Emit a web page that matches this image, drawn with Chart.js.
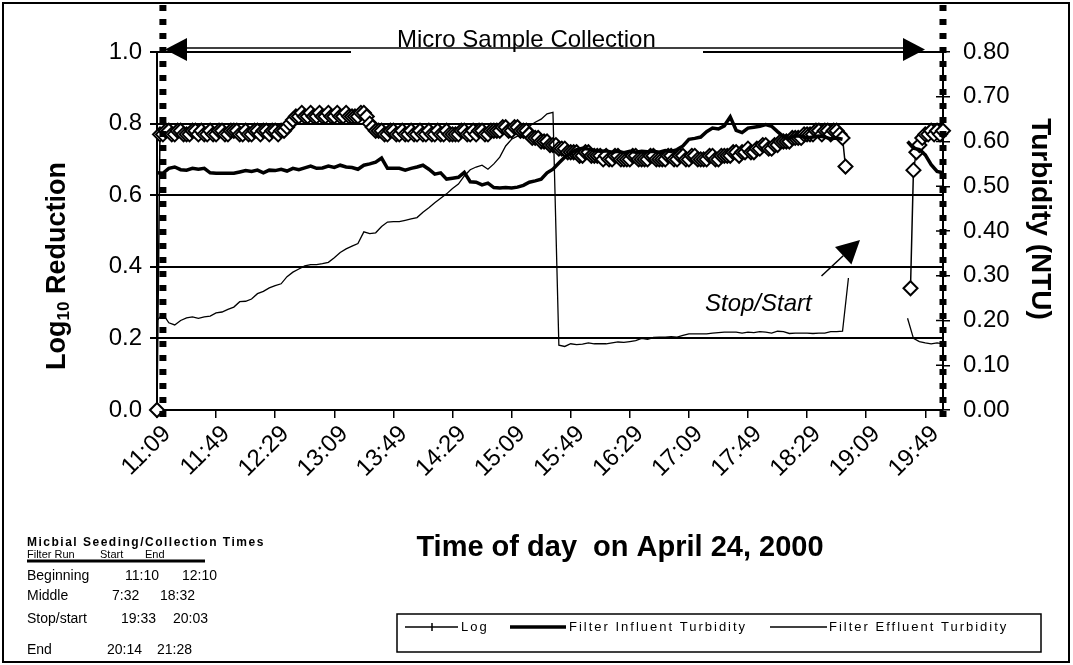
<!DOCTYPE html>
<html><head><meta charset="utf-8">
<script src="https://cdn.jsdelivr.net/npm/chart.js@4.4.1/dist/chart.umd.min.js"></script>
<style>html,body{margin:0;padding:0;background:#fff}canvas{display:block}</style>
</head><body>
<canvas id="c" width="1073" height="665" style="width:1073px;height:665px"></canvas>
<script>
// ---------- DATA ----------
// axis categories / Log sampling times (every 2 min)
const timeLabels = [
"11:09","11:11","11:13","11:15","11:17","11:19","11:21","11:23","11:25","11:27",
"11:29","11:31","11:33","11:35","11:37","11:39","11:41","11:43","11:45","11:47",
"11:49","11:51","11:53","11:55","11:57","11:59","12:01","12:03","12:05","12:07",
"12:09","12:11","12:13","12:15","12:17","12:19","12:21","12:23","12:25","12:27",
"12:29","12:31","12:33","12:35","12:37","12:39","12:41","12:43","12:45","12:47",
"12:49","12:51","12:53","12:55","12:57","12:59","13:01","13:03","13:05","13:07",
"13:09","13:11","13:13","13:15","13:17","13:19","13:21","13:23","13:25","13:27",
"13:29","13:31","13:33","13:35","13:37","13:39","13:41","13:43","13:45","13:47",
"13:49","13:51","13:53","13:55","13:57","13:59","14:01","14:03","14:05","14:07",
"14:09","14:11","14:13","14:15","14:17","14:19","14:21","14:23","14:25","14:27",
"14:29","14:31","14:33","14:35","14:37","14:39","14:41","14:43","14:45","14:47",
"14:49","14:51","14:53","14:55","14:57","14:59","15:01","15:03","15:05","15:07",
"15:09","15:11","15:13","15:15","15:17","15:19","15:21","15:23","15:25","15:27",
"15:29","15:31","15:33","15:35","15:37","15:39","15:41","15:43","15:45","15:47",
"15:49","15:51","15:53","15:55","15:57","15:59","16:01","16:03","16:05","16:07",
"16:09","16:11","16:13","16:15","16:17","16:19","16:21","16:23","16:25","16:27",
"16:29","16:31","16:33","16:35","16:37","16:39","16:41","16:43","16:45","16:47",
"16:49","16:51","16:53","16:55","16:57","16:59","17:01","17:03","17:05","17:07",
"17:09","17:11","17:13","17:15","17:17","17:19","17:21","17:23","17:25","17:27",
"17:29","17:31","17:33","17:35","17:37","17:39","17:41","17:43","17:45","17:47",
"17:49","17:51","17:53","17:55","17:57","17:59","18:01","18:03","18:05","18:07",
"18:09","18:11","18:13","18:15","18:17","18:19","18:21","18:23","18:25","18:27",
"18:29","18:31","18:33","18:35","18:37","18:39","18:41","18:43","18:45","18:47",
"18:49","18:51","18:53","18:55","18:57","18:59","19:01","19:03","19:05","19:07",
"19:09","19:11","19:13","19:15","19:17","19:19","19:21","19:23","19:25","19:27",
"19:29","19:31","19:33","19:35","19:37","19:39","19:41","19:43","19:45","19:47",
"19:49","19:51","19:53","19:55","19:57","19:59","20:01"];

// turbidity sampling times (every 4 min)
const turbidityTimes = [
"11:09","11:13","11:17","11:21","11:25","11:29","11:33","11:37","11:41","11:45",
"11:49","11:53","11:57","12:01","12:05","12:09","12:13","12:17","12:21","12:25",
"12:29","12:33","12:37","12:41","12:45","12:49","12:53","12:57","13:01","13:05",
"13:09","13:13","13:17","13:21","13:25","13:29","13:33","13:37","13:41","13:45",
"13:49","13:53","13:57","14:01","14:05","14:09","14:13","14:17","14:21","14:25",
"14:29","14:33","14:37","14:41","14:45","14:49","14:53","14:57","15:01","15:05",
"15:09","15:13","15:17","15:21","15:25","15:29","15:33","15:37","15:41","15:45",
"15:49","15:53","15:57","16:01","16:05","16:09","16:13","16:17","16:21","16:25",
"16:29","16:33","16:37","16:41","16:45","16:49","16:53","16:57","17:01","17:05",
"17:09","17:13","17:17","17:21","17:25","17:29","17:33","17:37","17:41","17:45",
"17:49","17:53","17:57","18:01","18:05","18:09","18:13","18:17","18:21","18:25",
"18:29","18:33","18:37","18:41","18:45","18:49","18:53","18:57","19:01","19:05",
"19:09","19:13","19:17","19:21","19:25","19:29","19:33","19:37","19:41","19:45",
"19:49","19:53","19:57","20:01"];

const tickLabels = ["11:09","11:49","12:29","13:09","13:49","14:29","15:09","15:49",
"16:29","17:09","17:49","18:29","19:09","19:49"];

const logReduction = [
0,0.77,0.77,0.78,0.78,0.77,0.77,0.78,0.78,0.77,
0.77,0.77,0.78,0.78,0.77,0.78,0.77,0.77,0.78,0.77,
0.77,0.78,0.78,0.77,0.77,0.78,0.78,0.78,0.77,0.77,
0.78,0.77,0.77,0.78,0.78,0.77,0.78,0.78,0.77,0.78,
0.78,0.77,0.78,0.78,0.79,0.80,0.81,0.82,0.82,0.83,
0.82,0.82,0.83,0.82,0.82,0.83,0.82,0.82,0.83,0.82,
0.82,0.83,0.82,0.82,0.83,0.82,0.82,0.82,0.82,0.83,
0.83,0.82,0.80,0.79,0.78,0.78,0.78,0.77,0.77,0.78,
0.78,0.77,0.77,0.78,0.77,0.77,0.78,0.77,0.77,0.78,
0.77,0.77,0.78,0.77,0.77,0.78,0.77,0.77,0.78,0.77,
0.77,0.77,0.77,0.78,0.78,0.77,0.77,0.78,0.77,0.78,
0.78,0.77,0.77,0.78,0.78,0.78,0.78,0.79,0.79,0.78,
0.78,0.79,0.79,0.78,0.78,0.78,0.77,0.76,0.76,0.76,
0.75,0.75,0.75,0.74,0.74,0.74,0.73,0.73,0.73,0.72,
0.72,0.72,0.72,0.71,0.71,0.72,0.72,0.71,0.71,0.71,
0.71,0.70,0.71,0.70,0.70,0.71,0.71,0.70,0.70,0.70,
0.70,0.71,0.71,0.70,0.70,0.70,0.70,0.71,0.71,0.70,
0.70,0.70,0.70,0.71,0.71,0.70,0.70,0.71,0.71,0.70,
0.70,0.71,0.71,0.70,0.70,0.70,0.70,0.71,0.71,0.70,
0.70,0.71,0.71,0.71,0.71,0.72,0.72,0.71,0.72,0.72,
0.73,0.72,0.72,0.73,0.73,0.74,0.74,0.73,0.73,0.74,
0.74,0.75,0.75,0.75,0.75,0.76,0.76,0.76,0.76,0.77,
0.77,0.77,0.77,0.78,0.78,0.77,0.78,0.78,0.77,0.78,
0.78,0.77,0.76,0.68,null,null,null,null,null,null,
null,null,null,null,null,null,null,null,null,null,
null,null,null,null,null,0.34,0.67,0.72,0.74,0.76,
0.77,0.77,0.78,0.77,0.78,0.77,0.78];

const influentTurbidity = [
0.53,0.529,0.54,0.543,0.537,0.536,0.54,0.538,0.54,0.53,
0.529,0.529,0.529,0.529,0.532,0.535,0.533,0.536,0.53,0.536,
0.535,0.538,0.534,0.54,0.537,0.541,0.545,0.54,0.541,0.545,
0.542,0.547,0.543,0.542,0.538,0.547,0.55,0.554,0.563,0.54,
0.54,0.54,0.536,0.54,0.543,0.547,0.538,0.527,0.53,0.516,
0.518,0.52,0.531,0.51,0.509,0.503,0.507,0.497,0.496,0.497,
0.496,0.498,0.502,0.509,0.512,0.516,0.53,0.538,0.552,0.565,
0.574,0.582,0.585,0.583,0.58,0.578,0.579,0.576,0.578,0.575,
0.578,0.576,0.578,0.577,0.578,0.576,0.58,0.578,0.582,0.59,
0.605,0.607,0.61,0.622,0.63,0.628,0.635,0.655,0.625,0.62,
0.63,0.632,0.634,0.638,0.634,0.622,0.611,0.607,0.613,0.612,
0.608,0.61,0.612,0.61,0.606,0.608,0.605,
null,null,null,null,null,null,null,null,null,null,
0.60,0.585,0.582,0.57,0.548,0.533,0.53];

const effluentTurbidity = [
0.20,0.215,0.195,0.19,0.20,0.206,0.208,0.205,0.208,0.21,
0.217,0.219,0.225,0.23,0.242,0.243,0.248,0.26,0.265,0.273,
0.278,0.282,0.298,0.308,0.315,0.322,0.325,0.325,0.327,0.33,
0.34,0.352,0.36,0.366,0.372,0.398,0.394,0.396,0.41,0.42,
0.421,0.421,0.424,0.427,0.43,0.442,0.452,0.463,0.473,0.483,
0.495,0.505,0.523,0.537,0.543,0.547,0.538,0.55,0.565,0.59,
0.605,0.612,0.62,0.634,0.643,0.65,0.662,0.665,0.145,0.142,
0.148,0.146,0.147,0.15,0.148,0.148,0.148,0.15,0.152,0.151,
0.153,0.155,0.16,0.158,0.162,0.163,0.163,0.164,0.163,0.167,
0.17,0.17,0.17,0.17,0.172,0.173,0.174,0.174,0.174,0.172,
0.174,0.173,0.175,0.174,0.172,0.176,0.175,0.171,0.172,0.172,
0.172,0.171,0.172,0.172,0.175,0.175,0.176,0.295,
null,null,null,null,null,null,null,null,null,
0.205,0.16,0.153,0.15,0.148,0.15,0.148];

const seedingTitle = "Micbial Seeding/Collection Times";
const seedingHeader = ["Filter Run", "Start", "End"];
const seedingRows = [
  ["Beginning", "11:10", "12:10"],
  ["Middle", "7:32", "18:32"],
  ["Stop/start", "19:33", "20:03"],
  ["End", "20:14", "21:28"]
];
const collectionLabel = "Micro Sample Collection";
const collectionStart = "11:13";
const collectionEnd = "20:01";
const stopStartLabel = "Stop/Start";

// ---------- DRAWING ----------
const FONT = "'Liberation Sans', Arial, sans-serif";
const pairs = (times, vals) => times.map((t, i) => ({ x: t, y: vals[i] }));

const decor = {
  id: 'decor',
  beforeDraw(chart) {
    const c = chart.ctx;
    c.save(); c.fillStyle = '#fff'; c.fillRect(0, 0, chart.width, chart.height); c.restore();
  },
  afterDraw(chart) {
    const c = chart.ctx;
    const xs = chart.scales.x, yL = chart.scales.y, yR = chart.scales.y1;
    c.save();
    c.fillStyle = '#000'; c.strokeStyle = '#000';

    // inner half of right-axis ticks (they cross the axis)
    c.lineWidth = 1.5;
    yR.ticks.forEach(t => {
      const py = yR.getPixelForValue(t.value);
      c.beginPath(); c.moveTo(yR.left - 7, py); c.lineTo(yR.left, py); c.stroke();
    });

    // collection annotation: white box hiding the gridline, label, double arrow
    const topY = yL.getPixelForValue(1.0);
    c.fillStyle = '#fff';
    c.fillRect(351, topY - 27, 352, 30);
    c.fillStyle = '#000';
    c.font = "24px " + FONT;
    c.textBaseline = 'alphabetic'; c.textAlign = 'left';
    c.fillText(collectionLabel, 397, topY - 5.5);
    const ay = topY - 4;
    c.lineWidth = 1.5;
    c.beginPath(); c.moveTo(170, ay); c.lineTo(920, ay); c.stroke();
    c.beginPath(); c.moveTo(165, ay + 1.5); c.lineTo(187, ay - 10); c.lineTo(187, ay + 13); c.closePath(); c.fill();
    c.beginPath(); c.moveTo(925, ay + 1.5); c.lineTo(903, ay - 10); c.lineTo(903, ay + 13); c.closePath(); c.fill();

    // vertical dotted lines (collection start / end)
    c.lineWidth = 7; c.setLineDash([6, 8]);
    [collectionStart, collectionEnd].forEach(lbl => {
      const px = xs.getPixelForValue(timeLabels.indexOf(lbl));
      c.beginPath(); c.moveTo(px, 5); c.lineTo(px, 424); c.stroke();
    });
    c.setLineDash([]);

    // Stop/Start label + arrow
    c.font = "italic 24px " + FONT;
    c.fillText(stopStartLabel, 705, 311);
    const tip = [860, 240], tail = [821.5, 276];
    const dx = tip[0] - tail[0], dy = tip[1] - tail[1], L = Math.hypot(dx, dy);
    const ux = dx / L, uy = dy / L, bx = tip[0] - 23 * ux, by = tip[1] - 23 * uy;
    c.lineWidth = 1.5;
    c.beginPath(); c.moveTo(tail[0], tail[1]); c.lineTo(bx, by); c.stroke();
    c.beginPath(); c.moveTo(tip[0], tip[1]);
    c.lineTo(bx - uy * 12, by + ux * 12); c.lineTo(bx + uy * 12, by - ux * 12); c.closePath(); c.fill();

    // axis titles
    const big = "bold 27px " + FONT, sub = "bold 17px " + FONT;
    c.font = big;
    const p1 = "Log", p2 = "10", p3 = " Reduction";
    const w1 = c.measureText(p1).width, w3 = c.measureText(p3).width;
    c.font = sub;
    const w2 = c.measureText(p2).width;
    const tw = w1 + w2 + w3;
    c.save();
    c.translate(58, 266); c.rotate(-Math.PI / 2);
    c.textBaseline = 'middle';
    c.font = big; c.fillText(p1, -tw / 2, 0);
    c.font = sub; c.fillText(p2, -tw / 2 + w1, 6);
    c.font = big; c.fillText(p3, -tw / 2 + w1 + w2, 0);
    c.restore();

    c.save();
    c.translate(1040, 219); c.rotate(Math.PI / 2);
    c.font = "bold 28px " + FONT; c.textAlign = 'center'; c.textBaseline = 'middle';
    c.fillText("Turbidity (NTU)", 0, 0);
    c.restore();

    c.font = "bold 29px " + FONT; c.textAlign = 'center'; c.textBaseline = 'middle';
    c.fillText("Time of day  on April 24, 2000", 620, 548);

    // legend (custom box)
    c.textAlign = 'left'; c.textBaseline = 'middle';
    c.lineWidth = 1.5;
    c.strokeRect(397, 614, 644, 38);
    const ly = 627;
    const ds = chart.data.datasets;
    const byLabel = l => ds.find(d => d.label === l);
    c.font = "13px " + FONT;
    c.letterSpacing = '2px';
    c.lineWidth = 1.5;
    c.beginPath(); c.moveTo(405, ly); c.lineTo(458, ly); c.stroke();
    c.beginPath(); c.moveTo(432, ly - 4); c.lineTo(432, ly + 4); c.stroke();
    c.fillText(byLabel('Log').label, 461, ly);
    c.lineWidth = 3.5;
    c.beginPath(); c.moveTo(510, ly); c.lineTo(566, ly); c.stroke();
    c.fillText(byLabel('Filter Influent Turbidity').label, 569, ly);
    c.lineWidth = 1.5;
    c.beginPath(); c.moveTo(770, ly); c.lineTo(827, ly); c.stroke();
    c.fillText(byLabel('Filter Effluent Turbidity').label, 829, ly);

    // seeding table
    c.textBaseline = 'alphabetic';
    c.font = "bold 12px " + FONT; c.letterSpacing = '1.5px';
    c.fillText(seedingTitle, 27, 546);
    c.letterSpacing = '0px';
    c.font = "11px " + FONT;
    const hx = [27, 100, 145];
    seedingHeader.forEach((h, i) => c.fillText(h, hx[i], 558));
    c.lineWidth = 3;
    c.beginPath(); c.moveTo(27, 561); c.lineTo(205, 561); c.stroke();
    c.font = "14px " + FONT;
    const rowY = [580, 600, 623, 654];
    const colX = [[27, 125, 182], [27, 112, 160], [27, 121, 173], [27, 107, 157]];
    seedingRows.forEach((r, i) => r.forEach((t, j) => c.fillText(t, colX[i][j], rowY[i])));

    // outer frame
    c.lineWidth = 2;
    c.strokeRect(3, 3, 1066, 659);
    c.restore();
  }
};

const tickFont = { family: FONT, size: 24 };

new Chart(document.getElementById('c'), {
  type: 'line',
  data: {
    labels: timeLabels,
    datasets: [
      { label: 'Filter Influent Turbidity', data: pairs(turbidityTimes, influentTurbidity), yAxisID: 'y1',
        borderColor: '#000', borderWidth: 3.5, pointRadius: 0, tension: 0, spanGaps: false, order: 1 },
      { label: 'Filter Effluent Turbidity', data: pairs(turbidityTimes, effluentTurbidity), yAxisID: 'y1',
        borderColor: '#000', borderWidth: 1.3, pointRadius: 0, tension: 0, spanGaps: false, order: 2 },
      { label: 'Log', data: pairs(timeLabels, logReduction), yAxisID: 'y',
        borderColor: '#000', borderWidth: 1.5, tension: 0, spanGaps: false,
        pointStyle: 'rectRot', pointRadius: 7, pointBackgroundColor: '#fff',
        pointBorderColor: '#000', pointBorderWidth: 2, clip: false, order: 3 }
    ]
  },
  options: {
    responsive: false, animation: false, devicePixelRatio: 1, events: [],
    layout: { padding: { top: 52, left: 0, right: 0, bottom: 0 } },
    plugins: { legend: { display: false }, tooltip: { enabled: false } },
    scales: {
      x: {
        type: 'category', offset: false,
        grid: { drawOnChartArea: false, drawTicks: true, tickLength: 8, color: '#000', lineWidth: 1.5 },
        border: { color: '#000', width: 2 },
        ticks: { autoSkip: false, maxRotation: 45, minRotation: 45, font: tickFont, color: '#000',
          padding: 2, labelOffset: 10,
          callback(v, i) { const l = timeLabels[i]; return tickLabels.includes(l) ? l : null; } },
        afterFit(s) { s.height = 255; }
      },
      y: {
        position: 'left', min: 0, max: 1,
        grid: { color: '#000', lineWidth: 2, tickLength: 7 },
        border: { color: '#000', width: 2 },
        ticks: { stepSize: 0.2, font: tickFont, color: '#000', padding: 8, callback: v => v.toFixed(1) },
        afterFit(s) { s.width = 157; }
      },
      y1: {
        position: 'right', min: 0, max: 0.8,
        grid: { drawOnChartArea: false, color: '#000', lineWidth: 1.5, tickLength: 7 },
        border: { color: '#000', width: 2 },
        ticks: { stepSize: 0.1, font: tickFont, color: '#000', padding: 13, callback: v => v.toFixed(2) },
        afterFit(s) { s.width = 130; }
      }
    }
  },
  plugins: [decor]
});
</script>
</body></html>
